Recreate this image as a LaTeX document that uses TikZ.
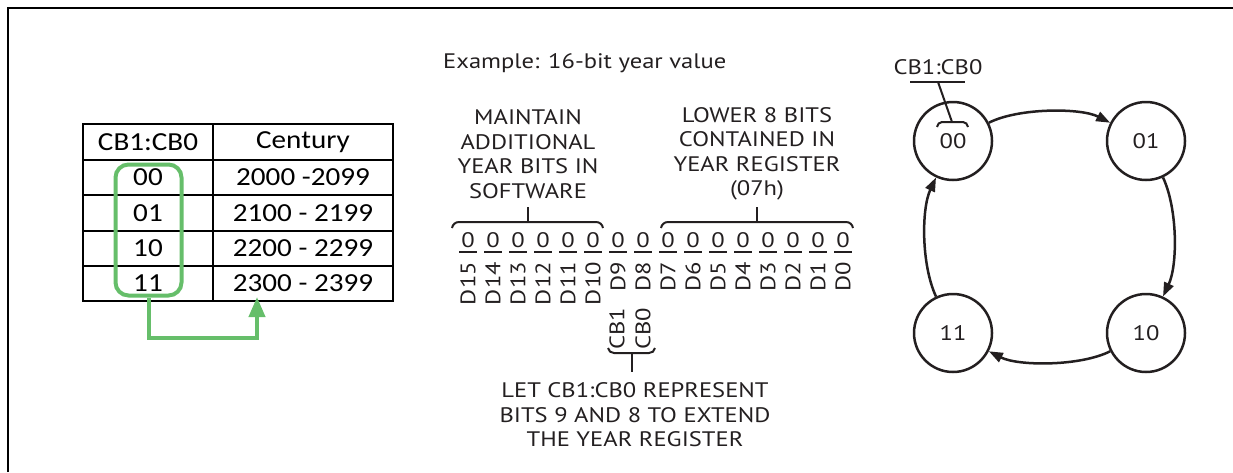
\documentclass[tikz,border=0pt]{standalone}
\usepackage{fontspec}
\setmainfont[FakeStretch=1.17]{PT Sans}
\newfontfamily\tabfont[FakeStretch=1.12]{Carlito}
\usetikzlibrary{arrows.meta}
\definecolor{ink}{RGB}{35,31,32}
\definecolor{grn}{RGB}{102,190,106}
\begin{document}
\begin{tikzpicture}[x=1pt,y=-1pt,
  lbl/.style={font=\fontsize{21}{24.5}\selectfont, text=ink, inner sep=0pt, align=center},
  tab/.style={font=\tabfont\fontsize{26}{30}\selectfont, inner sep=0pt},
  tline/.style={line width=2.2pt},
  bar/.style={line width=2.5pt, ink},
  thin/.style={line width=2pt, ink},
  st/.style={circle, draw=ink, line width=2.5pt, minimum size=78pt, inner sep=0pt, font=\fontsize{21}{24}\selectfont, text=ink},
  arr/.style={line width=2.5pt, ink, -{Triangle[length=14pt,width=10pt]}, shorten >=0pt}
]
\useasboundingbox (0,0) rectangle (1233,472);
% frame
\draw[line width=2pt] (8,472) -- (8,8) -- (1233,8);

% table
\draw[tline] (83,124) rectangle (393,301);
\foreach \y in {160,195,231,266} \draw[tline] (83,\y) -- (393,\y);
\draw[tline] (213,124) -- (213,301);
\node[tab] (h1) at (148,142) {CB1:CB0};
\node[tab] (h2) at (303,142) {Century};
\node[tab] (r1a) at (148,177.5) {00};
\node[tab] (r1b) at (303,177.5) {2000 -2099};
\node[tab] (r2a) at (148,213) {01};
\node[tab] (r2b) at (303,213) {2100 - 2199};
\node[tab] (r3a) at (148,248.5) {10};
\node[tab] (r3b) at (303,248.5) {2200 - 2299};
\node[tab] (r4a) at (148,283.5) {11};
\node[tab] (r4b) at (303,283.5) {2300 - 2399};
\node[draw=grn, line width=4pt, rounded corners=13pt, minimum width=66pt, minimum height=131pt, inner sep=0pt] (gbox) at (148.5,230) {};
\coordinate (gtip) at (257,297);
\draw[grn, line width=4pt, -{Triangle[length=20pt,width=16pt]}] (gbox.south) -- (gbox.south |- 0,338) -| (gtip);

% example
\node[lbl, anchor=base west] (ex) at (443,68) {Example: 16-bit year value};
\node[lbl] (maint) at (528,154) {MAINTAIN\\ADDITIONAL\\YEAR BITS IN\\SOFTWARE};
\node[lbl] (lower) at (757,154) {LOWER 8 BITS\\CONTAINED IN\\YEAR REGISTER\\(07h)};
% braces
\draw[thin] (452,228) to[out=80,in=180] (459,222) -- (596,222) to[out=0,in=100] (603,228);
\draw[thin] (528,222) -- (528,207);
\draw[thin] (661,228) to[out=80,in=180] (668,222) -- (846,222) to[out=0,in=100] (853,228);
\draw[thin] (757,222) -- (757,207);

% bits
\foreach \i in {0,...,15} {
  \pgfmathtruncatemacro\d{15-\i}
  \node[lbl] (z\i) at ({468+25*\i},240) {0};
  \draw[bar] ({459+25*\i},252) -- ({477+25*\i},252);
  \node[lbl, rotate=90, anchor=east] (d\i) at ({468+25*\i},262) {D\d};
}
\node[lbl, rotate=90, anchor=east] (cb1) at (617,308) {CB1};
\node[lbl, rotate=90, anchor=east] (cb0) at (643,308) {CB0};
\draw[thin] (608,348) to[out=-80,in=180] (614,353) -- (649,353) to[out=0,in=-100] (655,348);
\draw[thin] (632,353) -- (632,372);
\node[lbl] (let) at (635,415) {LET CB1:CB0 REPRESENT\\BITS 9 AND 8 TO EXTEND\\THE YEAR REGISTER};

% state diagram
\node[st] (s00) at (953,141) {00};
\node[st] (s01) at (1146,141) {01};
\node[st] (s10) at (1146,333) {10};
\node[st] (s11) at (953,333) {11};
\draw[arr] (s00) to[bend left=27, looseness=0.7] (s01);
\draw[arr] (s01) to[bend left=25, looseness=0.75] (s10);
\draw[arr] (s10) to[bend left=27, looseness=0.7] (s11);
\draw[arr] (s11) to[bend left=25, looseness=0.75] (s00);
\node[lbl] (cbl) at (938,67) {CB1:CB0};
\coordinate (u1) at (910,82);
\coordinate (u2) at (965,82);
\coordinate (u3) at (938,82);
\coordinate (u4) at (952,122);
\draw[thin] (u1) -- (u2);
\draw[thin] (u3) -- (u4);
\draw[thin] (937,127) to[out=80,in=180] (942,122) -- (963,122) to[out=0,in=100] (968,127);
\end{tikzpicture}
\end{document}
